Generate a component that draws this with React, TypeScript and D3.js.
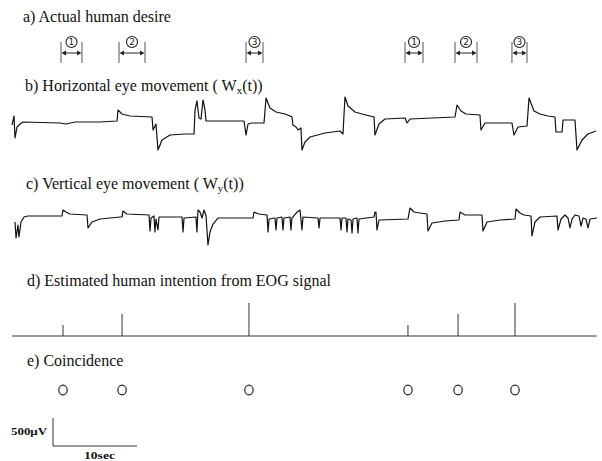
import React, { useEffect } from 'react';
import * as d3 from 'd3';

// a) actual human desire: intervals in seconds
const desireLabels = ['1', '2', '3', '1', '2', '3'];
const desireStart = [5.83, 12.74, 27.86, 46.79, 52.74, 59.52];
const desireEnd = [8.33, 15.83, 29.88, 48.93, 55.36, 61.31];

// b) horizontal eye movement [sec, µV]
const horizontalEOG: [number, number][] = [
  [0, -36], [0.24, 125], [0.36, -268], [0.6, -71], [0.95, -18], [1.31, 18], [5.71, 0], [6.43, -18],
  [7.5, 18], [10.48, 18], [12.5, 36], [12.62, 232], [13.1, 161], [14.05, 125], [16.67, 107],
  [16.79, -125], [17.14, -18], [17.38, -482], [17.86, -304], [18.81, -214], [20.6, -196],
  [21.67, -196], [21.79, 232], [22.02, 393], [22.26, 89], [22.5, 71], [22.74, 411], [22.98, 232],
  [23.1, 36], [27.62, 36], [27.86, -214], [28.1, -18], [28.57, 0], [30.0, 0], [30.24, 446],
  [30.71, 268], [31.43, 196], [32.5, 161], [33.1, 125], [33.33, 107], [33.45, -36], [33.81, -71],
  [34.05, -125], [34.4, -89], [34.52, -482], [34.88, -339], [35.48, -250], [37.26, -179],
  [39.05, -143], [39.4, -196], [39.64, 464], [40.0, 304], [40.83, 196], [41.67, 161], [43.1, 107],
  [43.21, -214], [43.69, -18], [44.4, 71], [46.79, 89], [47.02, 0], [47.38, 71], [52.74, 107],
  [52.98, 321], [53.45, 214], [54.05, 161], [55.71, 143], [55.83, -125], [56.31, 0], [59.52, 0],
  [59.76, -214], [60.24, -71], [61.31, -54], [61.55, 446], [62.14, 214], [62.86, 161], [63.81, 125],
  [64.64, 107], [64.76, -161], [65.48, -161], [65.6, 54], [67.02, 54], [67.26, -482], [67.86, -304],
  [68.57, -196], [69.52, -143],
];

// c) vertical eye movement [sec, µV]
const verticalEOG: [number, number][] = [
  [0.36, -107], [0.48, -393], [0.71, -161], [0.83, -375], [1.07, -107], [1.43, -18], [1.9, 0],
  [5.95, 0], [6.07, 107], [6.43, 71], [6.9, 36], [8.93, 18], [9.05, -214], [9.52, -107], [10.48, -54],
  [12.86, -18], [13.1, -18], [13.21, 89], [13.69, 36], [16.31, 18], [16.43, -268], [16.55, -36],
  [16.9, 0], [17.02, -286], [17.14, -54], [17.38, -250], [17.5, -18], [20.24, -18], [20.36, -286],
  [20.48, -36], [21.9, -18], [22.02, -286], [22.14, 107], [22.38, 71], [22.62, -36], [22.86, 107],
  [23.1, 0], [23.33, -518], [23.57, -286], [23.93, -143], [24.52, -36], [28.7, -36], [28.81, 71],
  [29.4, 36], [30.36, 18], [30.48, -286], [30.6, -54], [31.31, -36], [31.43, -250], [31.55, -36],
  [32.14, -18], [32.26, -250], [32.38, -36], [33.1, -18], [33.21, -250], [33.33, -36], [33.93, 71],
  [34.29, 107], [34.52, -250], [34.64, -18], [36.43, -36], [36.55, -214], [36.67, -36], [39.05, -36],
  [39.17, -250], [39.29, -36], [39.76, -36], [39.88, -286], [40.0, -54], [40.36, -71], [40.48, -304],
  [40.6, -54], [41.07, -36], [41.19, -304], [41.31, -54], [43.1, -18], [43.21, 71], [43.33, 71],
  [43.45, -250], [43.69, -71], [47.14, -54], [47.38, 143], [47.86, 71], [48.57, 54], [49.4, 36],
  [49.52, -268], [50.0, -125], [51.55, -89], [53.21, -71], [53.33, 71], [53.93, 18], [55.95, 18],
  [56.07, -268], [56.55, -107], [58.1, -71], [59.88, -54], [60.0, 125], [60.48, 54], [60.95, 18],
  [61.79, 0], [61.9, -357], [62.26, -107], [62.86, -18], [64.88, 0], [65.0, -250], [65.36, -54],
  [65.83, 18], [66.19, -36], [66.43, -214], [66.67, -54], [67.02, 18], [67.5, 0], [67.74, -179],
  [67.98, -36], [68.33, -54], [68.57, -214], [68.81, -54], [69.64, -36],
];

// d) estimated intention: time of detection and class
const intentTime = [6.07, 13.1, 28.21, 47.14, 53.1, 59.88];
const intentClass = [1, 2, 3, 1, 2, 3];

// e) coincidence of desire and estimate
const coincidence = [true, true, true, true, true, true];

// scale bar
const barSeconds = 10;
const barMicroVolt = 500;

const serif = "'Liberation Serif', 'Times New Roman', serif";

export default function App() {
  useEffect(() => {
    document.body.style.margin = '0';
  }, []);

  const width = 602;
  const height = 461;

  const x = d3.scaleLinear().domain([0, 70]).range([12, 600]);
  const yH = d3.scaleLinear().domain([-500, 500]).range([151, 95]);
  const yV = d3.scaleLinear().domain([-500, 500]).range([244, 188]);
  const yI = d3.scaleLinear().domain([0, 3]).range([336, 303]);

  const lineH = d3.line<[number, number]>().x(d => x(d[0])).y(d => yH(d[1]));
  const lineV = d3.line<[number, number]>().x(d => x(d[0])).y(d => yV(d[1]));

  const arrowY = 53;
  const barX = 53;
  const barY = 446;
  const barW = x(barSeconds) - x(0);
  const barH = yH(0) - yH(barMicroVolt);

  return (
    <svg width={width} height={height} style={{ display: 'block', background: '#fff' }}>
      <g fontFamily={serif} fontSize={16} fill="#111">
        <text x={23} y={22}>a) Actual human desire</text>
        <text x={25} y={91}>
          b) Horizontal eye movement ( W<tspan dy={3} fontSize={11}>x</tspan>
          <tspan dy={-3}>(t))</tspan>
        </text>
        <text x={26} y={189}>
          c) Vertical eye movement ( W<tspan dy={3} fontSize={11}>y</tspan>
          <tspan dy={-3}>(t))</tspan>
        </text>
        <text x={27} y={286}>d) Estimated human intention from EOG signal</text>
        <text x={27} y={366}>e) Coincidence</text>
      </g>

      {/* a) desire intervals */}
      {desireStart.map((s, i) => {
        const x0 = x(s);
        const x1 = x(desireEnd[i]);
        const cx = (x0 + x1) / 2;
        return (
          <g key={'des' + i}>
            <line x1={x0} x2={x0} y1={42} y2={63} stroke="#555" strokeWidth={1} />
            <line x1={x1} x2={x1} y1={42} y2={63} stroke="#555" strokeWidth={1} />
            <line x1={x0 + 2} x2={x1 - 2} y1={arrowY} y2={arrowY} stroke="#222" strokeWidth={1} />
            <polygon points={`${x0 + 0.5},${arrowY} ${x0 + 5},${arrowY - 2.5} ${x0 + 5},${arrowY + 2.5}`} fill="#222" />
            <polygon points={`${x1 - 0.5},${arrowY} ${x1 - 5},${arrowY - 2.5} ${x1 - 5},${arrowY + 2.5}`} fill="#222" />
            <circle cx={cx} cy={42} r={5.5} fill="#fff" stroke="#222" strokeWidth={1.1} />
            <text x={cx} y={45.2} textAnchor="middle" fontFamily="'DejaVu Sans', sans-serif" fontSize={9} fill="#222">
              {desireLabels[i]}
            </text>
          </g>
        );
      })}

      {/* b) horizontal */}
      <path d={lineH(horizontalEOG) || ''} fill="none" stroke="#111" strokeWidth={1.2} strokeLinejoin="round" />

      {/* c) vertical */}
      <path d={lineV(verticalEOG) || ''} fill="none" stroke="#111" strokeWidth={1.2} strokeLinejoin="round" />

      {/* d) estimated intention */}
      <line x1={x(0)} x2={x(69.6)} y1={yI(0)} y2={yI(0)} stroke="#333" strokeWidth={1} />
      {intentTime.map((t, i) => (
        <line key={'int' + i} x1={x(t)} x2={x(t)} y1={yI(0)} y2={yI(intentClass[i])} stroke="#333" strokeWidth={1} />
      ))}

      {/* e) coincidence */}
      {intentTime.map((t, i) =>
        coincidence[i] ? (
          <ellipse key={'co' + i} cx={x(t)} cy={390} rx={4.2} ry={4.8} fill="none" stroke="#222" strokeWidth={1.2} />
        ) : null
      )}

      {/* scale bar */}
      <line x1={barX} x2={barX} y1={barY - barH} y2={barY} stroke="#333" strokeWidth={1} />
      <line x1={barX} x2={barX + barW} y1={barY} y2={barY} stroke="#333" strokeWidth={1} />
      <text x={11} y={435} fontFamily={serif} fontSize={10} fontWeight="bold" textLength={36} lengthAdjust="spacingAndGlyphs" fill="#111">
        500μV
      </text>
      <text x={84} y={459} fontFamily={serif} fontSize={10} fontWeight="bold" textLength={31} lengthAdjust="spacingAndGlyphs" fill="#111">
        10sec
      </text>
    </svg>
  );
}
